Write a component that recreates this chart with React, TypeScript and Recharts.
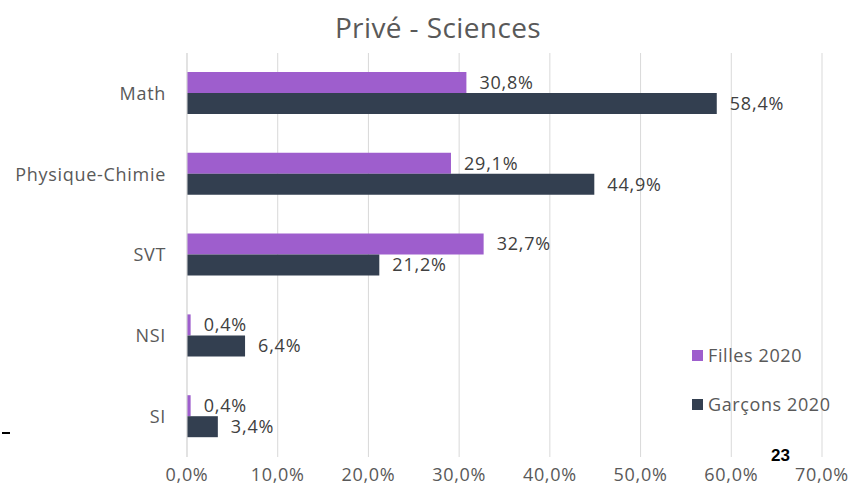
import { Bar, BarChart, CartesianGrid, LabelList, Legend, XAxis, YAxis } from "recharts";

const matieres = ["Math", "Physique-Chimie", "SVT", "NSI", "SI"];
const filles2020 = [30.8, 29.1, 32.7, 0.4, 0.4];
const garcons2020 = [58.4, 44.9, 21.2, 6.4, 3.4];
const xTicks = [0, 10, 20, 30, 40, 50, 60, 70];

const data = matieres.map((m, i) => ({
  name: m,
  filles: filles2020[i],
  garcons: garcons2020[i],
}));

const FONT = "'Open Sans', 'Noto Sans', sans-serif";
const fmt = (v: number) => `${v.toFixed(1).replace(".", ",")}%`;
const textStyle = { fontSize: 18, fill: "#595959", fontFamily: FONT, letterSpacing: 0.7 };
const labelStyle = { fontSize: 18, fill: "#404040", fontFamily: FONT, letterSpacing: 0.8 };

function LegendBox({ payload }: any) {
  return (
    <div style={{ display: "flex", flexDirection: "column", gap: 25 }}>
      {(payload ?? []).map((p: any) => (
        <div key={p.value} style={{ display: "flex", alignItems: "center", gap: 5 }}>
          <span style={{ width: 11, height: 11, background: p.color, display: "inline-block" }} />
          <span style={{ fontSize: 18, color: "#595959", fontFamily: FONT, letterSpacing: 0.6 }}>
            {p.value}
          </span>
        </div>
      ))}
    </div>
  );
}

export default function App() {
  return (
    <div style={{ position: "fixed", left: 0, top: 0, width: 854, height: 498, background: "#fff" }}>
      <div
        style={{
          position: "absolute",
          top: 8,
          left: 11,
          width: 854,
          textAlign: "center",
          fontFamily: FONT,
          fontSize: 28,
          letterSpacing: 0.4,
          color: "#595959",
        }}
      >
        Privé - Sciences
      </div>
      <BarChart
        width={854}
        height={498}
        data={data}
        layout="vertical"
        margin={{ top: 53, right: 32, bottom: 11, left: 0 }}
        barGap={0}
        barSize={21}
      >
        <CartesianGrid horizontal={false} stroke="#d9d9d9" />
        <XAxis
          type="number"
          domain={[0, 70]}
          ticks={xTicks}
          tickFormatter={(v) => fmt(v)}
          axisLine={false}
          tickLine={false}
          tickMargin={5}
          height={30}
          tick={textStyle}
        />
        <YAxis
          type="category"
          dataKey="name"
          width={187}
          axisLine={{ stroke: "#d9d9d9" }}
          tickLine={false}
          tickMargin={15}
          tick={textStyle}
        />
        <Legend
          layout="vertical"
          verticalAlign="middle"
          align="center"
          wrapperStyle={{ left: 692, top: 343, width: 160 }}
          content={<LegendBox />}
        />
        <Bar dataKey="filles" name="Filles 2020" fill="#9e5ecd" isAnimationActive={false}>
          <LabelList
            dataKey="filles"
            position="right"
            offset={13}
            formatter={(v: any) => fmt(Number(v))}
            style={labelStyle}
          />
        </Bar>
        <Bar dataKey="garcons" name="Garçons 2020" fill="#333f50" isAnimationActive={false}>
          <LabelList
            dataKey="garcons"
            position="right"
            offset={13}
            formatter={(v: any) => fmt(Number(v))}
            style={labelStyle}
          />
        </Bar>
      </BarChart>
      <div style={{ position: "absolute", left: 2, top: 432, width: 8, height: 1.5, background: "#000" }} />
      <div
        style={{
          position: "absolute",
          left: 771,
          top: 446,
          fontFamily: "'Liberation Sans', Arial, sans-serif",
          fontWeight: 700,
          fontSize: 17,
          color: "#000",
        }}
      >
        23
      </div>
    </div>
  );
}
